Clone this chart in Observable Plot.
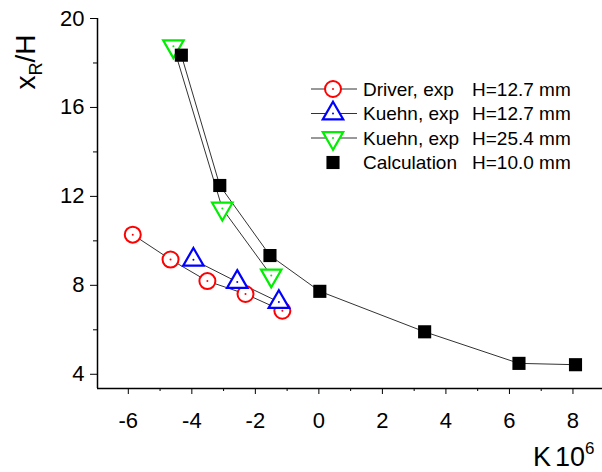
<!DOCTYPE html>
<html><head><meta charset="utf-8">
<script src="https://cdn.jsdelivr.net/npm/d3@7"></script>
<script src="https://cdn.jsdelivr.net/npm/@observablehq/plot@0.6"></script>
<style>html,body{margin:0;padding:0;background:#fff;} svg{display:block}</style>
</head><body><div id="chart"></div>
<script>
// ---- data ----
const driverK = [-5.86, -4.67, -3.51, -2.31, -1.15];
const driverX = [10.28, 9.16, 8.19, 7.61, 6.86];
const kuehn127K = [-3.95, -2.57, -1.26];
const kuehn127X = [9.15, 8.15, 7.25];
const kuehn254K = [-4.58, -3.04, -1.50];
const kuehn254X = [18.75, 11.45, 8.44];
const calcK = [-4.33, -3.12, -1.54, 0.03, 3.33, 6.30, 8.08];
const calcX = [18.35, 12.49, 9.34, 7.73, 5.91, 4.49, 4.43];
const seriesNames = ["Driver, exp", "Kuehn, exp", "Kuehn, exp", "Calculation"];
const seriesH = ["H=12.7 mm", "H=12.7 mm", "H=25.4 mm", "H=10.0 mm"];
const xMajor = [-6, -4, -2, 0, 2, 4, 6, 8];
const xMinor = [-5, -3, -1, 1, 3, 5, 7];
const yMajor = [4, 8, 12, 16, 20];
const yMinor = [6, 10, 14, 18];

const xDomain = [-6.97, 8.93];
const yDomain = [3.36, 20];

const rows = (ks, xs) => ks.map((k, i) => ({k, x: xs[i]}));
const driver = rows(driverK, driverX);
const kuehn127 = rows(kuehn127K, kuehn127X);
const kuehn254 = rows(kuehn254K, kuehn254X);
const calc = rows(calcK, calcX);

const FONT = "'Liberation Sans', Arial, sans-serif";
const lineStroke = "#333333";

const styles = [
  {symbol: "circle", r: 8, stroke: "#ff0000", fill: "white", sw: 2, rotate: 0},
  {symbol: "triangle", r: 7.6, stroke: "#0000ff", fill: "white", sw: 2.2, rotate: 0},
  {symbol: "triangle", r: 7.6, stroke: "#00ee00", fill: "white", sw: 2.2, rotate: 180},
  {symbol: "square", r: 7.4, stroke: "none", fill: "#000000", sw: 0, rotate: 0}
];
const datasets = [driver, kuehn127, kuehn254, calc];

const marks = [];
datasets.forEach((d, i) => {
  marks.push(Plot.line(d, {x: "k", y: "x", stroke: lineStroke, strokeWidth: 1}));
});
datasets.forEach((d, i) => {
  const s = styles[i];
  marks.push(Plot.dot(d, {x: "k", y: "x", symbol: s.symbol, r: s.r, stroke: s.stroke,
    strokeWidth: s.sw, fill: s.fill, rotate: s.rotate}));
  if (s.fill === "white") {
    marks.push(Plot.dot(d, {x: "k", y: "x", r: 1, fill: s.stroke, stroke: "none"}));
  }
});

const fmt = d => String(d);

const plot = Plot.plot({
  width: 602,
  height: 472,
  marginLeft: 97,
  marginRight: 0,
  marginTop: 18,
  marginBottom: 84,
  style: {fontFamily: FONT, fontSize: "22px", background: "white", color: "black"},
  x: {domain: xDomain, label: null},
  y: {domain: yDomain, label: null},
  marks: [
    Plot.axisX({ticks: xMajor, tickSize: 6, tickPadding: 18, fontSize: 22, tickFormat: fmt, label: null, stroke: "black"}),
    Plot.axisX({ticks: xMinor, tickSize: 3, tickFormat: () => "", label: null, stroke: "black"}),
    Plot.axisY({ticks: yMajor, tickSize: 7, tickPadding: 6, fontSize: 22, tickFormat: fmt, label: null, stroke: "black"}),
    Plot.axisY({ticks: yMinor, tickSize: 4, tickFormat: () => "", label: null, stroke: "black"}),
    Plot.ruleY([yDomain[0]], {stroke: "black", strokeWidth: 1.5}),
    Plot.ruleX([xDomain[0]], {y1: yDomain[0], y2: yDomain[1], stroke: "black", strokeWidth: 1.5}),
    ...marks
  ]
});
document.getElementById("chart").appendChild(plot);

const svg = d3.select(plot);

// y axis label  x_R/H
const yl = svg.append("text")
  .attr("transform", "translate(35,62) rotate(-90)")
  .attr("text-anchor", "middle")
  .attr("font-family", FONT)
  .attr("font-size", 28)
  .attr("fill", "black");
yl.append("tspan").text("x");
yl.append("tspan").attr("dy", 7).attr("font-size", 18).text("R");
yl.append("tspan").attr("dy", -7).text("/H");

// x axis label  K 10^6
const xl = svg.append("text")
  .attr("x", 533).attr("y", 466)
  .attr("text-anchor", "start")
  .attr("font-family", FONT)
  .attr("font-size", 27)
  .attr("fill", "black");
xl.append("tspan").text("K");
xl.append("tspan").attr("dx", 4).text("10");
xl.append("tspan").attr("dy", -12).attr("font-size", 17).text("6");

// legend
const legY = [89, 113.5, 138, 162.5];
const lg = svg.append("g").attr("font-family", FONT).attr("font-size", 19)
  .attr("fill", "black").attr("text-anchor", "start");
styles.forEach((s, i) => {
  const y = legY[i];
  if (i < 3) {
    lg.append("line").attr("x1", 311).attr("x2", 357).attr("y1", y).attr("y2", y)
      .attr("stroke", lineStroke).attr("stroke-width", 1);
  }
  const symType = s.symbol === "circle" ? d3.symbolCircle : s.symbol === "square" ? d3.symbolSquare : d3.symbolTriangle;
  lg.append("path")
    .attr("d", d3.symbol(symType, Math.PI * s.r * s.r)())
    .attr("transform", `translate(333,${y}) rotate(${s.rotate})`)
    .attr("fill", s.fill).attr("stroke", s.stroke).attr("stroke-width", s.sw);
  if (s.fill === "white") {
    lg.append("circle").attr("cx", 333).attr("cy", y).attr("r", 1).attr("fill", s.stroke);
  }
  lg.append("text").attr("x", 363).attr("y", y).attr("dy", "0.36em").text(seriesNames[i]);
  lg.append("text").attr("x", 472).attr("y", y).attr("dy", "0.36em").text(seriesH[i]);
});
</script>
</body></html>
